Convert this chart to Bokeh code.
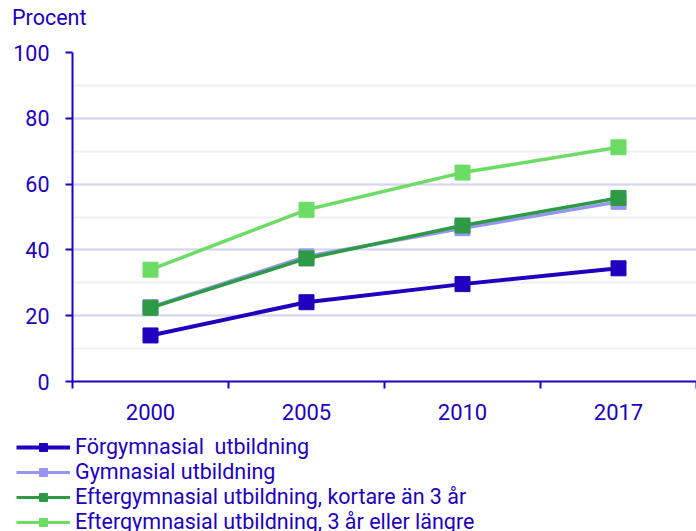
from bokeh.plotting import figure
from bokeh.layouts import column
from bokeh.models import Range1d, FixedTicker, SingleIntervalTicker, Legend, LegendItem, Div
from bokeh.embed import file_html
from bokeh.resources import INLINE

years = ["2000", "2005", "2010", "2017"]
forgymnasial = [14.0, 24.1, 29.6, 34.4]
gymnasial = [22.6, 38.0, 46.6, 54.6]
efter_kort = [22.4, 37.4, 47.4, 55.8]
efter_lang = [34.0, 52.2, 63.5, 71.2]
series_names = [
    "Förgymnasial  utbildning",
    "Gymnasial utbildning",
    "Eftergymnasial utbildning, kortare än 3 år",
    "Eftergymnasial utbildning, 3 år eller längre",
]
series_colors = ["#1e00be", "#9696f0", "#2e9a46", "#6cdc64"]
unit_label = "Procent"

TXT = "#1e00be"
FONT = "Roboto"

xs = [i + 0.5 for i in range(len(years))]
all_series = [forgymnasial, gymnasial, efter_kort, efter_lang]

head = Div(text=f'<div style="font-family:Roboto;font-size:21.5px;color:{TXT};'
                f'line-height:22px;margin:7px 0 0 12px;white-space:nowrap">{unit_label}</div>',
           width=696, height=29, margin=(0, 0, 0, 0))

p = figure(width=696, height=402, output_backend="svg", toolbar_location=None,
           x_range=Range1d(0, len(years)), y_range=Range1d(0, 100),
           min_border_left=72, min_border_right=0, min_border_top=23, min_border_bottom=50)
p.frame_align = False
p.outline_line_color = None
p.background_fill_color = "white"
p.border_fill_color = "white"

xa = p.xaxis[0]
xa.ticker = FixedTicker(ticks=xs, minor_ticks=list(range(len(years) + 1)))
xa.major_label_overrides = {x: y for x, y in zip(xs, years)}
xa.major_tick_line_color = None
xa.major_tick_out = 0
xa.major_tick_in = 0
xa.minor_tick_line_color = TXT
xa.minor_tick_line_width = 2
xa.minor_tick_out = 7
xa.minor_tick_in = 0
xa.axis_line_color = TXT
xa.axis_line_width = 2
xa.major_label_text_color = TXT
xa.major_label_text_font = FONT
xa.major_label_text_font_size = "22px"
xa.major_label_standoff = 15

ya = p.yaxis[0]
ya.ticker = SingleIntervalTicker(interval=20, num_minor_ticks=2)
ya.minor_tick_line_color = None
ya.major_tick_line_color = TXT
ya.major_tick_line_width = 2
ya.major_tick_out = 7
ya.major_tick_in = 0
ya.axis_line_color = TXT
ya.axis_line_width = 2
ya.major_label_text_color = TXT
ya.major_label_text_font = FONT
ya.major_label_text_font_size = "21.5px"
ya.major_label_standoff = 16

p.xgrid.grid_line_color = None
p.ygrid.grid_line_color = "#d4d4f2"
p.ygrid.grid_line_width = 2
p.ygrid.minor_grid_line_color = "#f0f0f0"
p.ygrid.minor_grid_line_width = 2

for vals, col in zip(all_series, series_colors):
    lw = 4 if col == "#1e00be" else 3.5
    p.line(xs, vals, line_color=col, line_width=lw)
    p.scatter(xs, vals, marker="square", size=15, fill_color=col, line_color=col)

# legend panel below the chart (hidden copies of the series supply the legend glyphs)
lg = figure(width=696, height=100, output_backend="svg", toolbar_location=None,
            x_range=Range1d(0, 1), y_range=Range1d(0, 1),
            x_axis_location=None, y_axis_location=None,
            min_border_left=0, min_border_right=0, min_border_top=0, min_border_bottom=0)
lg.frame_align = False
lg.outline_line_color = None
lg.grid.visible = False
lg.background_fill_color = "white"
lg.border_fill_color = "white"
items = []
for name, vals, col in zip(series_names, all_series, series_colors):
    lw = 4 if col == "#1e00be" else 3
    l = lg.line(xs, vals, line_color=col, line_width=lw, visible=False)
    s = lg.scatter(xs, vals, marker="square", size=12, fill_color=col, line_color=col, visible=False)
    items.append(LegendItem(label=name, renderers=[l, s]))

leg = Legend(items=items, location=(16, -3), orientation="vertical",
             label_text_font=FONT, label_text_font_size="21.5px", label_text_color=TXT,
             glyph_width=54, glyph_height=20, label_height=20, spacing=0,
             padding=0, margin=0, label_standoff=5, border_line_color=None,
             background_fill_alpha=0)
lg.add_layout(leg, "center")

layout = column(head, p, lg, spacing=0)
open("out.html", "w").write(file_html(layout, INLINE))
